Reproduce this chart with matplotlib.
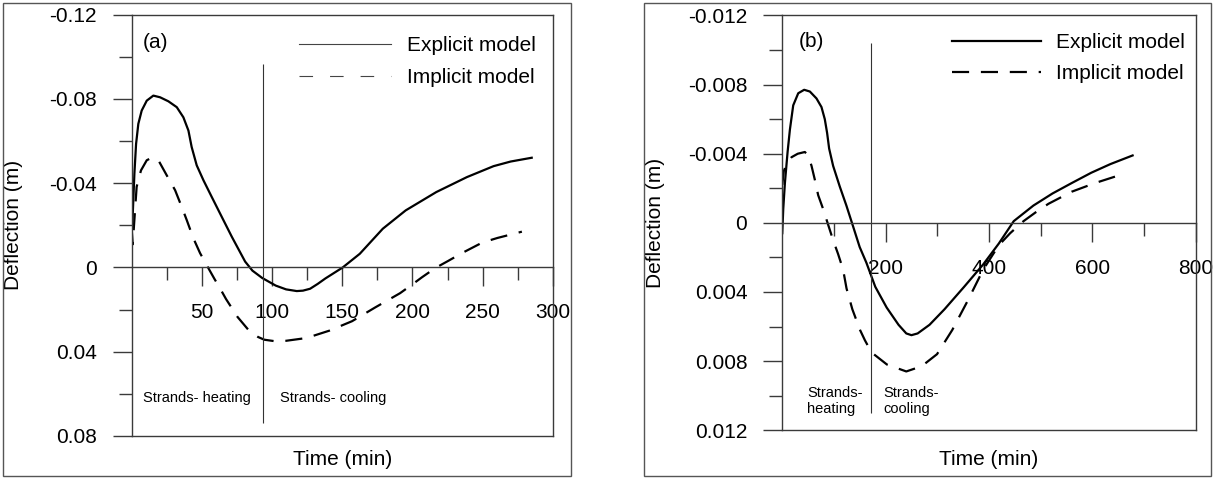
# deflection vs time, explicit vs implicit model, two panels

import matplotlib.pyplot as plt
from matplotlib.ticker import FixedLocator, FuncFormatter
from matplotlib.patches import Rectangle

plt.rcParams['font.family'] = ['Liberation Sans', 'DejaVu Sans']
plt.rcParams['axes.unicode_minus'] = False

# panel (a)
time_a_explicit = [0, 0.5, 1.9, 3.1, 4.7, 7.1, 10.7, 15.4, 20.2, 26.1, 32.1, 36.8, 40.4,
                   42.7, 46.3, 51.1, 57, 64.1, 71.3, 80.8, 86, 93, 102.6, 110, 117.6,
                   122, 127.1, 132.5, 138, 150.3, 162.5, 178.9, 195.2, 217, 238.8, 257.8,
                   270, 285]
defl_a_explicit = [-0.020, -0.0217, -0.0446, -0.0587, -0.0682, -0.0745, -0.0792, -0.0816,
                   -0.0808, -0.0789, -0.0761, -0.0713, -0.065, -0.0572, -0.0485, -0.0414,
                   -0.0335, -0.0241, -0.0146, -0.0028, 0.0015, 0.0050, 0.0086, 0.0104,
                   0.0112, 0.0110, 0.0101, 0.0078, 0.0052, 0.0, -0.0065, -0.0184, -0.0271,
                   -0.0358, -0.0429, -0.0481, -0.0503, -0.0521]
time_a_implicit = [0, 0.7, 3.5, 6.6, 10.7, 14.2, 19, 24.9, 30.9, 35.6, 39.2, 43.9, 48.7,
                   54.6, 59, 63, 67.2, 75.4, 83.6, 90, 94.5, 102, 110, 124.4, 140.8, 157,
                   173.4, 191.2, 199.6, 206.7, 216.2, 225.7, 235.2, 249.7, 260.5, 278]
defl_a_implicit = [-0.018, -0.011, -0.0383, -0.0461, -0.0509, -0.0521, -0.0509, -0.0438,
                   -0.0367, -0.0288, -0.0225, -0.0139, -0.0068, 0.0003, 0.0055, 0.0100,
                   0.0150, 0.0235, 0.0300, 0.0330, 0.0343, 0.0350, 0.0348, 0.0335, 0.0300,
                   0.0255, 0.0190, 0.0122, 0.0082, 0.0047, 0.0003, -0.0032, -0.0068,
                   -0.0118, -0.0140, -0.0170]

# panel (b)
time_b_explicit = [0, 1.9, 5.1, 10.3, 14.8, 21.2, 30.9, 42.4, 53.4, 66.2, 75.9, 82.3, 86.8,
                   90.7, 98.4, 111.3, 124.1, 137, 149.8, 162.7, 180, 202, 225, 240, 250,
                   262, 285, 314, 352, 389, 419, 448, 486, 523, 560, 598, 635, 678]
defl_b_explicit = [0.0006, -0.0008, -0.0023, -0.0041, -0.0054, -0.0068, -0.0075, -0.0077,
                   -0.0076, -0.0072, -0.0067, -0.0060, -0.0052, -0.0043, -0.0033, -0.0021,
                   -0.0010, 0.0002, 0.0014, 0.0023, 0.0037, 0.0049, 0.0059, 0.0064, 0.0065,
                   0.0064, 0.0059, 0.0050, 0.0037, 0.0024, 0.0012, -0.0001, -0.0010,
                   -0.0017, -0.0023, -0.0029, -0.0034, -0.0039]
time_b_implicit = [0, 3, 8.4, 18, 30, 43.7, 50.2, 56.6, 63, 69.5, 79.1, 88.7, 98.4, 108,
                   117.7, 124.4, 135.6, 150.5, 160, 172.8, 202.6, 240, 269.7, 299.5, 329,
                   359, 389, 419, 441, 467, 490, 515, 560, 605, 657]
defl_b_implicit = [-0.0022, -0.0030, -0.0034, -0.0038, -0.0040, -0.0041, -0.0039, -0.0033,
                   -0.0025, -0.0016, -0.0008, 0.0001, 0.0010, 0.0018, 0.0027, 0.0038,
                   0.0050, 0.0062, 0.0068, 0.0075, 0.0082, 0.0086, 0.0083, 0.0076, 0.0062,
                   0.0045, 0.0027, 0.0013, 0.0006, -0.0001, -0.0006, -0.0011, -0.0018,
                   -0.0023, -0.0028]

labels = ['Explicit model', 'Implicit model']

# heating / cooling split
split_a = 93.5
split_a_span = (-0.0967, 0.074)
split_b = 172.5
split_b_span = (-0.0104, 0.011)

spine_color = '#3a3a3a'
dash = (0, (7.7, 5.3))


def setup_panel(ax, xlim, ylim, xmajor, xminor, ymajor, yminor, ydigits):
    ax.set_xlim(*xlim)
    ax.set_ylim(*ylim)
    for sp in ax.spines.values():
        sp.set_color(spine_color)
        sp.set_linewidth(1.0)
    ax.spines['bottom'].set_position(('data', 0))
    # closing line of the box at the bottom
    ax.plot([0, 1], [0, 0], transform=ax.transAxes, color=spine_color, lw=1.0,
            clip_on=False)

    ax.xaxis.set_major_locator(FixedLocator(xmajor))
    ax.xaxis.set_minor_locator(FixedLocator(xminor))
    ax.yaxis.set_major_locator(FixedLocator(ymajor))
    ax.yaxis.set_minor_locator(FixedLocator(yminor))
    ax.yaxis.set_major_formatter(FuncFormatter(
        lambda v, p: '0' if abs(v) < 1e-12 else f'{v:.{ydigits}f}'))

    ax.tick_params(axis='both', which='both', direction='out', color=spine_color,
                   width=1.0, labelsize=15)
    ax.tick_params(axis='both', which='major', length=13.7)
    ax.tick_params(axis='both', which='minor', length=9.4)
    ax.tick_params(axis='x', which='major', pad=12)
    ax.tick_params(axis='y', which='major', pad=11.5)


def draw_frame(fig, x0, w):
    fig.patches.append(Rectangle((x0, 0.0042), w, 0.9895, transform=fig.transFigure,
                                 fill=False, edgecolor='#555555', lw=1.0))


fig = plt.figure(figsize=(12.13, 4.78), dpi=100)

draw_frame(fig, 0.0025, 0.4683)
draw_frame(fig, 0.5309, 0.4674)

# ---- (a)
ax1 = fig.add_axes([0.1086, 0.0879, 0.3471, 0.8813])
setup_panel(ax1, (0, 300), (0.08, -0.12),
            [50, 100, 150, 200, 250, 300], [25, 75, 125, 175, 225, 275],
            [-0.12, -0.08, -0.04, 0, 0.04, 0.08], [-0.10, -0.06, -0.02, 0.02, 0.06], 2)
ax1.plot(time_a_explicit, defl_a_explicit, color='black', lw=1.6, label=labels[0])
ax1.plot(time_a_implicit, defl_a_implicit, color='black', lw=1.6, linestyle=dash,
         label=labels[1])
ax1.vlines(split_a, *split_a_span, color='#333333', lw=0.8)
ax1.text(8, -0.1068, '(a)', fontsize=15, va='center')
ax1.text(8, 0.0622, 'Strands- heating', fontsize=10.5, va='center')
ax1.text(106, 0.0622, 'Strands- cooling', fontsize=10.5, va='center')
ax1.text(0.5, -0.057, 'Time (min)', transform=ax1.transAxes, fontsize=15,
         ha='center', va='center')
ax1.text(-0.2806, 0.5, 'Deflection (m)', transform=ax1.transAxes, fontsize=15,
         ha='center', va='center', rotation=90)
leg1 = ax1.legend(loc='upper left', bbox_to_anchor=(0.397, 0.949), frameon=False,
                  fontsize=15, borderpad=0, borderaxespad=0, handlelength=4.4,
                  handletextpad=0.8, labelspacing=0.63)
for ln in leg1.get_lines():
    ln.set_linewidth(0.8)
    ln.set_color('#444444')
leg1.get_lines()[1].set_linestyle((0, (12.2, 15.3)))

# ---- (b)
ax2 = fig.add_axes([0.6449, 0.1000, 0.3408, 0.8676])
setup_panel(ax2, (0, 800), (0.012, -0.012),
            [200, 400, 600, 800], [100, 300, 500, 700],
            [-0.012, -0.008, -0.004, 0, 0.004, 0.008, 0.012],
            [-0.010, -0.006, -0.002, 0.002, 0.006, 0.010], 3)
ax2.plot(time_b_explicit, defl_b_explicit, color='black', lw=1.6, label=labels[0])
ax2.plot(time_b_implicit, defl_b_implicit, color='black', lw=1.6, linestyle=dash,
         label=labels[1])
ax2.vlines(split_b, *split_b_span, color='#333333', lw=0.8)
ax2.text(32, -0.0105, '(b)', fontsize=15, va='center')
ax2.text(48, 0.0103, 'Strands-\nheating', fontsize=10.5, va='center')
ax2.text(195, 0.0103, 'Strands-\ncooling', fontsize=10.5, va='center')
ax2.text(0.5, -0.0716, 'Time (min)', transform=ax2.transAxes, fontsize=15,
         ha='center', va='center')
ax2.text(-0.307, 0.5, 'Deflection (m)', transform=ax2.transAxes, fontsize=15,
         ha='center', va='center', rotation=90)
leg2 = ax2.legend(loc='upper left', bbox_to_anchor=(0.411, 0.957), frameon=False,
                  fontsize=15, borderpad=0, borderaxespad=0, handlelength=4.25,
                  handletextpad=0.74, labelspacing=0.56)

plt.savefig('out.png', dpi=100)
plt.close()
